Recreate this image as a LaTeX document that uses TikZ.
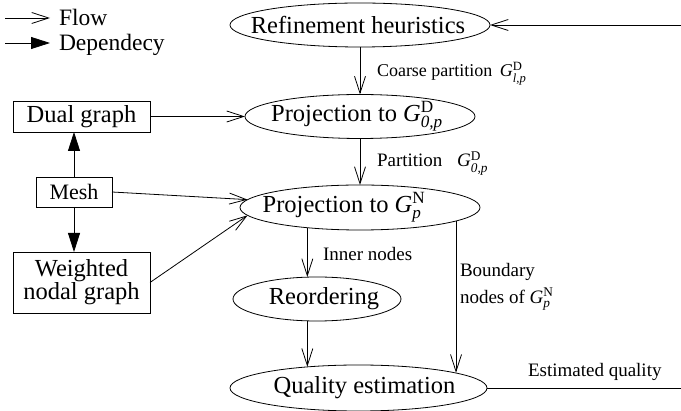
\documentclass[tikz,border=0pt]{standalone}
\usepackage{amsmath}
\usepackage{fontspec}
\setmainfont{Liberation Serif}
\usetikzlibrary{shapes.geometric,arrows.meta}
\newcommand\shtxt[2]{\makebox[0pt]{\kern#1\relax#2\kern-#1\relax}}
\newcommand\Gsym[2]{\textit{G}$^{\textrm{#1}}_{\textit{#2}}$}
\newcommand\mainfs{\fontsize{24.5}{22}\selectfont}
\newcommand\meshfs{\fontsize{22}{22}\selectfont}
\newcommand\lgdfs{\fontsize{23.5}{24}\selectfont}
\newcommand\lblfs{\fontsize{19}{27}\selectfont}
\newcommand\lblsfs{\fontsize{18}{27}\selectfont}
\begin{document}
\begin{tikzpicture}[x=1pt,y=-1pt,
  every node/.style={inner sep=0pt, outer sep=0pt},
  line width=0.8pt,
  ell/.style={draw, ellipse, font=\mainfs},
  box/.style={draw, rectangle, font=\mainfs},
  lbl/.style={font=\lblfs},
  lgd/.style={font=\lgdfs},
  flow/.style={-{Straight Barb[length=17pt,width=11pt]}},
  dep/.style={-{Triangle[length=19pt,width=12pt]}}]
\useasboundingbox (0,0) rectangle (681,411);

% legend
\coordinate (f0) at (5,18); \coordinate (f1) at (50,18);
\draw[flow] (f0) -- (f1);
\node[lgd, anchor=base west] (lflow) at (59,26) {Flow};
\coordinate (d0) at (5,43); \coordinate (d1) at (50,43);
\draw[dep] (d0) -- (d1);
\node[lgd, anchor=base west] (ldep) at (59,51) {Dependecy};

% ellipses
\node[ell, minimum width=260pt, minimum height=44pt] (ref) at (360,25) {\shtxt{-2pt}{Refinement heuristics}};
\node[ell, minimum width=230pt, minimum height=44pt] (proj0) at (360,116.5) {\shtxt{-3pt}{Projection to \Gsym{D}{0,p}}};
\node[ell, minimum width=240pt, minimum height=45pt] (projN) at (360,207.5) {\shtxt{-16pt}{Projection to \Gsym{N}{p}}};
\node[ell, minimum width=168pt, minimum height=44pt] (reord) at (317,299) {\shtxt{7pt}{Reordering}};
\node[ell, minimum width=257pt, minimum height=46pt] (qual) at (358.5,388) {\shtxt{6pt}{Quality estimation}};

% boxes
\node[box, minimum width=137pt, minimum height=31pt] (dual) at (81.5,116.5) {Dual graph};
\node[box, minimum width=76pt, minimum height=30pt, font=\meshfs] (mesh) at (74,192) {Mesh};
\node[box, minimum width=137pt, minimum height=61pt, align=center] (wng) at (81.5,282.5) {Weighted\\nodal graph};

% connectors
\coordinate (inR) at (681,25);
\draw[flow] (inR) -- (ref.east);
\draw[flow] (ref) -- (proj0);
\draw[flow] (proj0) -- (projN);
\draw[flow] (dual) -- (proj0);
\draw[dep] (mesh.north) -- (mesh.north |- dual.south);
\draw[dep] (mesh.south) -- (mesh.south |- wng.north);
\draw[flow] (mesh.east) -- (projN.176);
\draw[flow] (wng.east) -- (projN.184);
\draw[flow] (projN.201.3) -- (projN.201.3 |- reord.north);
\draw[flow] (projN.201.3 |- reord.south) -- (projN.201.3 |- qual.157.3);
\draw[flow] (projN.-8.9) -- (projN.-8.9 |- qual.9.4);
\coordinate (outR) at (681,388);
\draw (qual.east) -- (outR);

% labels
\node[lbl, font=\lblsfs, anchor=base west] (lcoarse) at (377,77) {Coarse partition\hspace{3pt} \Gsym{D}{l,p}};
\node[lbl, anchor=base west] (lpart) at (377,167) {Partition\hspace{10pt} \Gsym{D}{0,p}};
\node[lbl, anchor=base west] (linner) at (323,261) {Inner nodes};
\node[lbl, anchor=north west, align=left] (lbound) at (460,263) {Boundary\\nodes of \Gsym{N}{p}};
\node[lbl, anchor=base west] (lest) at (528,377) {Estimated quality};
\end{tikzpicture}
\end{document}
